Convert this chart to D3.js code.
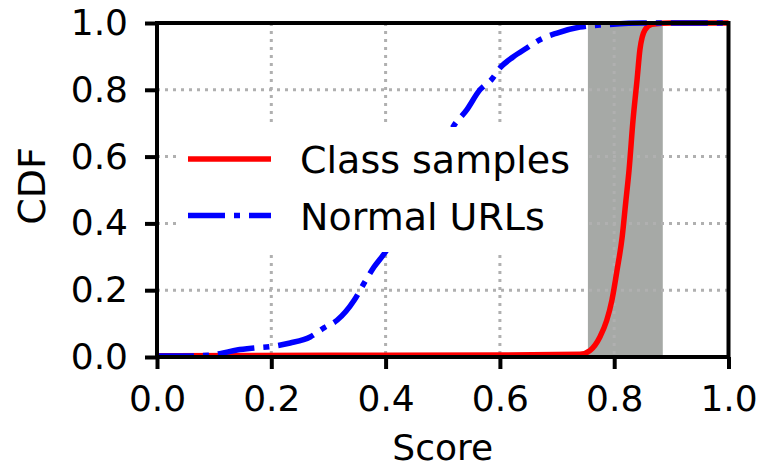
<!DOCTYPE html>
<html>
<head>
<meta charset="utf-8">
<script src="https://cdn.jsdelivr.net/npm/d3@7"></script>
<style>
  body { margin: 0; background: white; }
  text { font-family: "DejaVu Sans", sans-serif; }
</style>
</head>
<body>
<div id="container"></div>
<script>
// CDF data (score -> cumulative fraction)
const normalScore = [0.0, 0.05, 0.09, 0.11, 0.14, 0.17, 0.198, 0.233, 0.268, 0.292, 0.315, 0.345, 0.362, 0.38, 0.4, 0.42, 0.45, 0.48, 0.5, 0.518, 0.542, 0.565, 0.586, 0.6, 0.623, 0.647, 0.67, 0.7, 0.74, 0.787, 0.85, 1.0];
const normalCdf   = [0.003, 0.003, 0.005, 0.01, 0.021, 0.027, 0.031, 0.042, 0.06, 0.087, 0.11, 0.17, 0.22, 0.27, 0.315, 0.37, 0.46, 0.56, 0.63, 0.689, 0.74, 0.8, 0.832, 0.865, 0.898, 0.925, 0.95, 0.97, 0.988, 0.995, 1.0, 1.0];

const classScore = [0.0, 0.3, 0.6, 0.74, 0.758, 0.775, 0.787, 0.796, 0.805, 0.814, 0.82, 0.826, 0.833, 0.84, 0.845, 0.854, 0.866, 0.9, 1.0];
const classCdf   = [0.004, 0.005, 0.006, 0.008, 0.02, 0.06, 0.11, 0.17, 0.26, 0.36, 0.46, 0.56, 0.71, 0.83, 0.92, 0.98, 0.996, 1.0, 1.0];

// shaded score range
const bandRange = [0.754, 0.885];

const xTicks = [0.0, 0.2, 0.4, 0.6, 0.8, 1.0];
const yTicks = [0.0, 0.2, 0.4, 0.6, 0.8, 1.0];

const seriesNames = ["Class samples", "Normal URLs"];
const seriesColors = ["#ff0000", "#0000ff"];

/* CONSTANTS */
const width = 762, height = 469;
const margin = { top: 23, right: 33.5, bottom: 112, left: 157 };
const innerW = width - margin.left - margin.right,
      innerH = height - margin.top - margin.bottom;
const fontSize = 36;
const dashDot = "37,9,6,9";

const svg = d3.select("#container")
  .append("svg")
  .attr("width", width)
  .attr("height", height);

const g = svg.append("g")
  .attr("transform", `translate(${margin.left}, ${margin.top})`);

// scales
const x = d3.scaleLinear().domain([0, 1]).range([0, innerW]);
const y = d3.scaleLinear().domain([0, 1]).range([innerH, 0]);

// gray band first, grid goes over it (the 0.8 dotted line still shows through)
g.append("rect")
  .attr("x", x(bandRange[0]))
  .attr("y", 0)
  .attr("width", x(bandRange[1]) - x(bandRange[0]))
  .attr("height", innerH)
  .attr("fill", "#a6a9a6");

// dotted grid
g.append("g")
  .selectAll("line")
  .data(xTicks.slice(1, -1))
  .join("line")
  .attr("x1", d => x(d)).attr("x2", d => x(d))
  .attr("y1", 0).attr("y2", innerH)
  .attr("stroke", "#b0b0b0")
  .attr("stroke-width", 3)
  .attr("stroke-dasharray", "3,5");

g.append("g")
  .selectAll("line")
  .data(yTicks.slice(1, -1))
  .join("line")
  .attr("x1", 0).attr("x2", innerW)
  .attr("y1", d => y(d)).attr("y2", d => y(d))
  .attr("stroke", "#b0b0b0")
  .attr("stroke-width", 3)
  .attr("stroke-dasharray", "3,5");

// curves
const line = d3.line()
  .x(d => x(d[0]))
  .y(d => y(d[1]))
  .curve(d3.curveMonotoneX);

g.append("path")
  .datum(classScore.map((s, i) => [s, classCdf[i]]))
  .attr("d", line)
  .attr("fill", "none")
  .attr("stroke", seriesColors[0])
  .attr("stroke-width", 5.5);

g.append("path")
  .datum(normalScore.map((s, i) => [s, normalCdf[i]]))
  .attr("d", line)
  .attr("fill", "none")
  .attr("stroke", seriesColors[1])
  .attr("stroke-width", 5.5)
  .attr("stroke-dasharray", dashDot);

// axes
const xAxis = d3.axisBottom(x)
  .tickValues(xTicks)
  .tickFormat(d3.format(".1f"))
  .tickSize(12)
  .tickPadding(16);

const yAxis = d3.axisLeft(y)
  .tickValues(yTicks)
  .tickFormat(d3.format(".1f"))
  .tickSize(12)
  .tickPadding(17);

const xg = g.append("g")
  .attr("transform", `translate(0, ${innerH})`)
  .call(xAxis);
const yg = g.append("g").call(yAxis);

[xg, yg].forEach(ax => {
  ax.select(".domain").remove();
  ax.selectAll(".tick line").attr("stroke", "black").attr("stroke-width", 4);
  ax.selectAll(".tick text")
    .attr("fill", "black")
    .style("font-size", fontSize + "px")
    .style("font-family", "'DejaVu Sans', sans-serif");
});

// full box frame, on top of the lines like matplotlib spines
g.append("rect")
  .attr("x", 0).attr("y", 0)
  .attr("width", innerW).attr("height", innerH)
  .attr("fill", "none")
  .attr("stroke", "black")
  .attr("stroke-width", 4);

// axis labels (Score sits right at the bottom edge, keep it just inside)
svg.append("text")
  .attr("x", margin.left + innerW / 2)
  .attr("y", 460)
  .attr("text-anchor", "middle")
  .style("font-size", "36px")
  .text("Score");

svg.append("text")
  .attr("transform", `translate(45, ${margin.top + innerH / 2 - 4}) rotate(-90)`)
  .attr("text-anchor", "middle")
  .style("font-size", "38px")
  .text("CDF");

// legend - white box with no edge, covers the grid and part of the blue curve
const legend = svg.append("g");
legend.append("rect")
  .attr("x", 177).attr("y", 127)
  .attr("width", 408).attr("height", 125)
  .attr("rx", 6)
  .attr("fill", "white");

const rowY = [159, 215.5];
seriesNames.forEach((name, i) => {
  legend.append("line")
    .attr("x1", 188).attr("x2", 271)
    .attr("y1", rowY[i]).attr("y2", rowY[i])
    .attr("stroke", seriesColors[i])
    .attr("stroke-width", 5.5)
    .attr("stroke-dasharray", i === 1 ? dashDot : null);
  legend.append("text")
    .attr("x", 300)
    .attr("y", rowY[i] + 14)
    .style("font-size", "38px")
    .text(name);
});
</script>
</body>
</html>
